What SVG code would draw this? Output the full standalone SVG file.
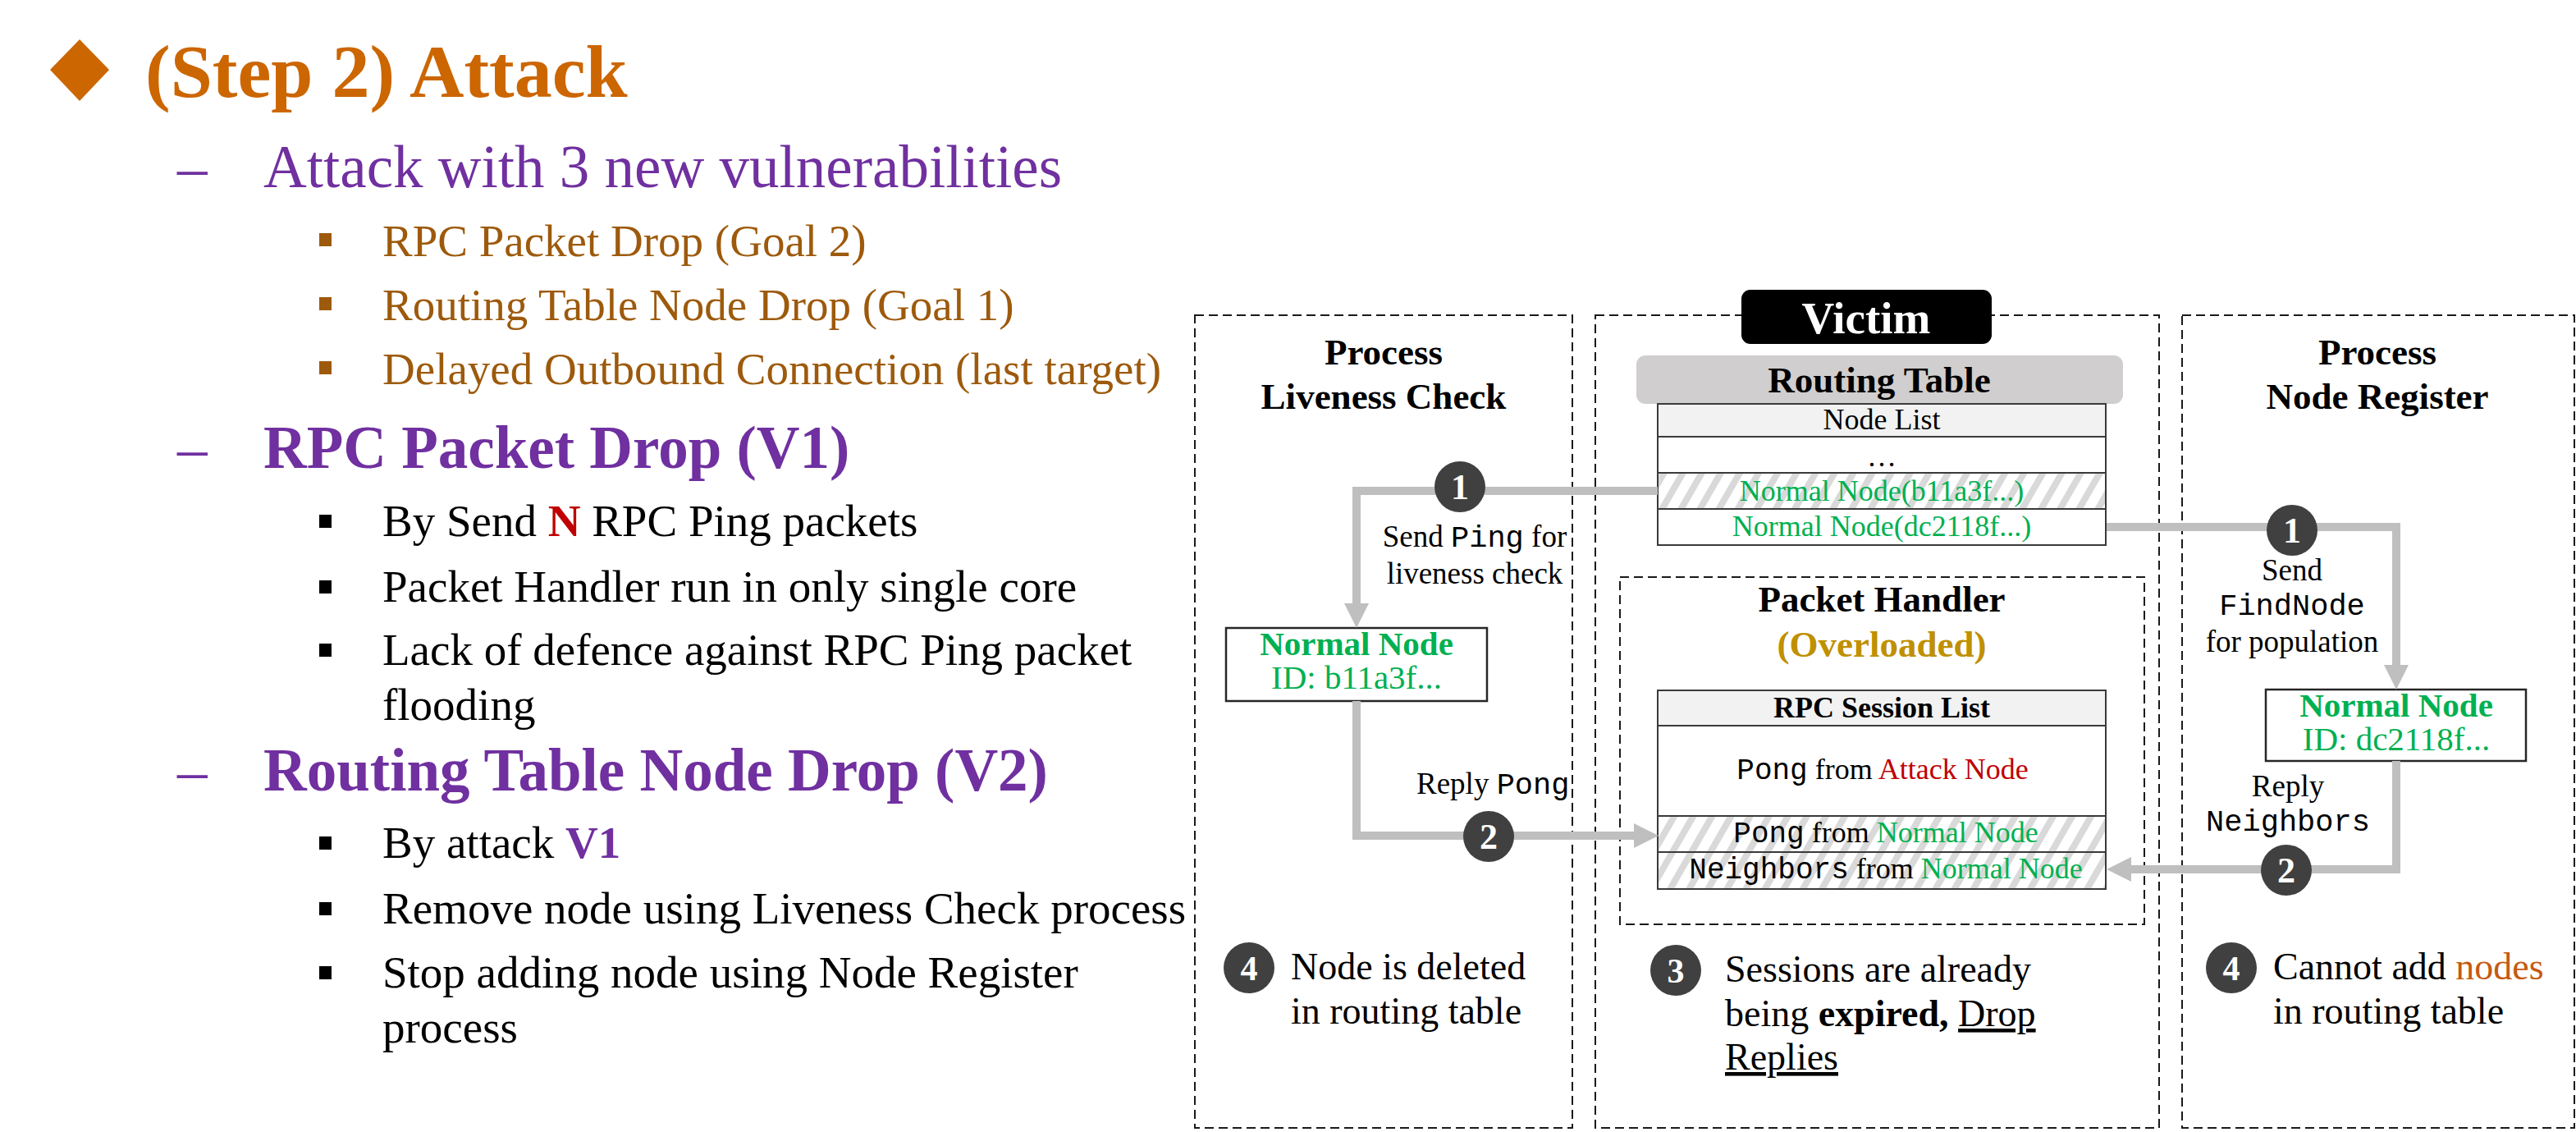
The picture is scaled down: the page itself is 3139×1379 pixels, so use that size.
<svg xmlns="http://www.w3.org/2000/svg" width="3139" height="1379" viewBox="0 0 3139 1379">
  <style>
    .serif { font-family: "Liberation Serif", "Times New Roman", serif; }
    .mono { font-family: "Liberation Mono", "Courier New", monospace; }
    .b { font-weight: bold; }
    .panel { fill: none; stroke: #1a1a1a; stroke-width: 2; stroke-dasharray: 11 6; }
    .cell { fill: #ffffff; stroke: #3a3a3a; stroke-width: 2; }
    .head { fill: #f2f2f2; stroke: #3a3a3a; stroke-width: 2; }
    .hatch { fill: url(#hatch); stroke: #3a3a3a; stroke-width: 2; }
    .nodebox { fill: #ffffff; stroke: #262626; stroke-width: 2.5; }
    .conn { fill: none; stroke: #bfbfbf; stroke-width: 10; stroke-linejoin: miter; stroke-linecap: butt; marker-end: url(#arrow); }
    .conn0 { fill: none; stroke: #bfbfbf; stroke-width: 10; }
    .step { fill: #404040; }
    .stepnum { fill: #ffffff; font-family: "Liberation Serif", "Times New Roman", serif; font-weight: bold; text-anchor: middle; }
    .green { fill: #00b050; }
    .red { fill: #c00000; }
    .purple { fill: #7030a0; }
    .brown { fill: #9d5a0c; }
  </style>
  <defs>
    <pattern id="hatch" width="20" height="20" patternUnits="userSpaceOnUse" patternTransform="rotate(30)">
      <rect width="20" height="20" fill="#ffffff"/>
      <rect width="8" height="20" fill="#d9d9d9"/>
    </pattern>
    <marker id="arrow" viewBox="0 0 30 30" refX="0" refY="15" markerWidth="30" markerHeight="30" markerUnits="userSpaceOnUse" orient="auto">
      <path d="M0,0 L30,15 L0,30 z" fill="#bfbfbf"/>
    </marker>
  </defs>

  <rect width="3139" height="1379" fill="#ffffff"/>

  <!-- Slide text (left column) -->
  <g id="slide-text" class="serif">
    <polygon points="97,48 133,85 97,123 61,85" fill="#cc6600"/>
    <text x="177" y="118" font-size="92" class="b" fill="#cc6600">(Step 2) Attack</text>

    <text x="216" y="228" font-size="73" class="purple">–</text>
    <text x="321" y="228" font-size="73" class="purple">Attack with 3 new vulnerabilities</text>

    <rect x="389" y="284" width="15" height="16" fill="#9d5a0c"/>
    <text x="466" y="312" font-size="55" class="brown">RPC Packet Drop (Goal 2)</text>
    <rect x="389" y="362" width="15" height="16" fill="#9d5a0c"/>
    <text x="466" y="390" font-size="55" class="brown">Routing Table Node Drop (Goal 1)</text>
    <rect x="389" y="440" width="15" height="16" fill="#9d5a0c"/>
    <text x="466" y="468" font-size="55" class="brown">Delayed Outbound Connection (last target)</text>

    <text x="216" y="570" font-size="73" class="purple">–</text>
    <text x="321" y="570" font-size="73" class="purple b">RPC Packet Drop (V1)</text>

    <rect x="389" y="627" width="15" height="16" fill="#000000"/>
    <text x="466" y="653" font-size="55" fill="#000000">By Send <tspan class="b red">N</tspan> RPC Ping packets</text>
    <rect x="389" y="707" width="15" height="16" fill="#000000"/>
    <text x="466" y="733" font-size="55" fill="#000000">Packet Handler run in only single core</text>
    <rect x="389" y="784" width="15" height="16" fill="#000000"/>
    <text x="466" y="810" font-size="55" fill="#000000">Lack of defence against RPC Ping packet</text>
    <text x="466" y="877" font-size="55" fill="#000000">flooding</text>

    <text x="216" y="963" font-size="73" class="purple">–</text>
    <text x="321" y="963" font-size="73" class="purple b">Routing Table Node Drop (V2)</text>

    <rect x="389" y="1019" width="15" height="16" fill="#000000"/>
    <text x="466" y="1045" font-size="55" fill="#000000">By attack <tspan class="b purple">V1</tspan></text>
    <rect x="389" y="1099" width="15" height="16" fill="#000000"/>
    <text x="466" y="1125" font-size="55" fill="#000000">Remove node using Liveness Check process</text>
    <rect x="389" y="1177" width="15" height="16" fill="#000000"/>
    <text x="466" y="1203" font-size="55" fill="#000000">Stop adding node using Node Register</text>
    <text x="466" y="1270" font-size="55" fill="#000000">process</text>
  </g>

  <!-- Panel: Process Liveness Check -->
  <g id="panel-liveness" class="serif">
    <rect class="panel" x="1456" y="384" width="460" height="990"/>
    <text x="1686" y="444" font-size="45" class="b" text-anchor="middle">Process</text>
    <text x="1686" y="498" font-size="45" class="b" text-anchor="middle">Liveness Check</text>
  </g>

  <!-- Panel: Victim -->
  <g id="panel-victim" class="serif">
    <rect class="panel" x="1944" y="384" width="687" height="990"/>
    <rect x="2122" y="353" width="305" height="66" rx="11" fill="#000000"/>
    <text x="2274" y="406" font-size="55" class="b" fill="#ffffff" text-anchor="middle">Victim</text>
  </g>

  <!-- Panel: Process Node Register -->
  <g id="panel-register" class="serif">
    <rect class="panel" x="2659" y="384" width="478" height="990"/>
    <text x="2897" y="444" font-size="45" class="b" text-anchor="middle">Process</text>
    <text x="2897" y="498" font-size="45" class="b" text-anchor="middle">Node Register</text>
  </g>

  <!-- Routing table -->
  <g id="routing-table" class="serif">
    <rect x="1994" y="433" width="593" height="59" rx="11" fill="#d0cece"/>
    <text x="2290" y="478" font-size="45" class="b" text-anchor="middle">Routing Table</text>
    <rect class="head" x="2020" y="492" width="546" height="40"/>
    <text x="2293" y="523" font-size="36" text-anchor="middle">Node List</text>
    <rect class="cell" x="2020" y="532" width="546" height="44"/>
    <text x="2293" y="568" font-size="36" text-anchor="middle">…</text>
    <rect class="hatch" x="2020" y="576" width="546" height="44"/>
    <text x="2293" y="610" font-size="36" class="green" text-anchor="middle">Normal Node(b11a3f...)</text>
    <rect class="cell" x="2020" y="620" width="546" height="44"/>
    <text x="2293" y="653" font-size="36" class="green" text-anchor="middle">Normal Node(dc2118f...)</text>
  </g>

  <!-- Packet handler -->
  <g id="packet-handler" class="serif">
    <rect class="panel" x="1974" y="703" width="639" height="423"/>
    <text x="2293" y="745" font-size="45" class="b" text-anchor="middle">Packet Handler</text>
    <text x="2293" y="800" font-size="45" class="b" fill="#bf9000" text-anchor="middle">(Overloaded)</text>
    <rect class="head" x="2020" y="841" width="546" height="43"/>
    <text x="2293" y="874" font-size="36" class="b" text-anchor="middle">RPC Session List</text>
    <rect class="cell" x="2020" y="884" width="546" height="110"/>
    <text x="2294" y="949" font-size="36" text-anchor="middle"><tspan class="mono">Pong</tspan> from <tspan class="red">Attack Node</tspan></text>
    <rect class="hatch" x="2020" y="994" width="546" height="44"/>
    <text x="2298" y="1026" font-size="36" text-anchor="middle"><tspan class="mono">Pong</tspan> from <tspan class="green">Normal Node</tspan></text>
    <rect class="hatch" x="2020" y="1038" width="546" height="45"/>
    <text x="2298" y="1070" font-size="36" text-anchor="middle"><tspan class="mono">Neighbors</tspan> from <tspan class="green">Normal Node</tspan></text>
  </g>

  <!-- Normal node b11a3f -->
  <g id="node-b11a3f" class="serif">
    <rect class="nodebox" x="1494" y="765" width="318" height="89"/>
    <text x="1653" y="798" font-size="41" class="b green" text-anchor="middle">Normal Node</text>
    <text x="1653" y="839" font-size="41" class="green" text-anchor="middle">ID: b11a3f...</text>
  </g>

  <!-- Normal node dc2118f -->
  <g id="node-dc2118f" class="serif">
    <rect class="nodebox" x="2761" y="840" width="317" height="87"/>
    <text x="2920" y="873" font-size="41" class="b green" text-anchor="middle">Normal Node</text>
    <text x="2920" y="914" font-size="41" class="green" text-anchor="middle">ID: dc2118f...</text>
  </g>

  <!-- Connectors -->
  <g id="connectors">
    <path class="conn" d="M2020,598 H1653 V735"/>
    <path class="conn" d="M1653,854 V1018 H1991"/>
    <path class="conn" d="M2567,642 H2920 V810"/>
    <path class="conn" d="M2920,927 V1059 H2597"/>
  </g>

  <!-- Connector labels and step markers -->
  <g id="step-labels" class="serif">
    <circle class="step" cx="1779" cy="593" r="31"/>
    <text class="stepnum" x="1779" y="608" font-size="44">1</text>
    <text x="1797" y="666" font-size="37" text-anchor="middle">Send <tspan class="mono">Ping</tspan> for</text>
    <text x="1797" y="711" font-size="37" text-anchor="middle">liveness check</text>

    <circle class="step" cx="1814" cy="1019" r="31"/>
    <text class="stepnum" x="1814" y="1034" font-size="44">2</text>
    <text x="1726" y="967" font-size="37">Reply <tspan class="mono">Pong</tspan></text>

    <circle class="step" cx="2793" cy="646" r="31"/>
    <text class="stepnum" x="2793" y="661" font-size="44">1</text>
    <text x="2793" y="707" font-size="37" text-anchor="middle">Send</text>
    <text x="2793" y="749" font-size="37" class="mono" text-anchor="middle">FindNode</text>
    <text x="2793" y="794" font-size="37" text-anchor="middle">for population</text>

    <circle class="step" cx="2786" cy="1060" r="31"/>
    <text class="stepnum" x="2786" y="1075" font-size="44">2</text>
    <text x="2788" y="970" font-size="37" text-anchor="middle">Reply</text>
    <text x="2788" y="1012" font-size="37" class="mono" text-anchor="middle">Neighbors</text>
  </g>

  <!-- Outcomes -->
  <g id="outcome-liveness" class="serif">
    <circle class="step" cx="1522" cy="1179" r="31"/>
    <text class="stepnum" x="1522" y="1194" font-size="42">4</text>
    <text x="1573" y="1193" font-size="46">Node is deleted</text>
    <text x="1573" y="1247" font-size="46">in routing table</text>
  </g>
  <g id="outcome-handler" class="serif">
    <circle class="step" cx="2042" cy="1182" r="31"/>
    <text class="stepnum" x="2042" y="1197" font-size="42">3</text>
    <text x="2102" y="1196" font-size="46">Sessions are already</text>
    <text x="2102" y="1250" font-size="46">being <tspan class="b">expired,</tspan> <tspan text-decoration="underline">Drop</tspan></text>
    <text x="2102" y="1303" font-size="46" text-decoration="underline">Replies</text>
  </g>
  <g id="outcome-register" class="serif">
    <circle class="step" cx="2719" cy="1179" r="31"/>
    <text class="stepnum" x="2719" y="1194" font-size="42">4</text>
    <text x="2770" y="1193" font-size="46">Cannot add <tspan fill="#c55a11">nodes</tspan></text>
    <text x="2770" y="1247" font-size="46">in routing table</text>
  </g>
</svg>
